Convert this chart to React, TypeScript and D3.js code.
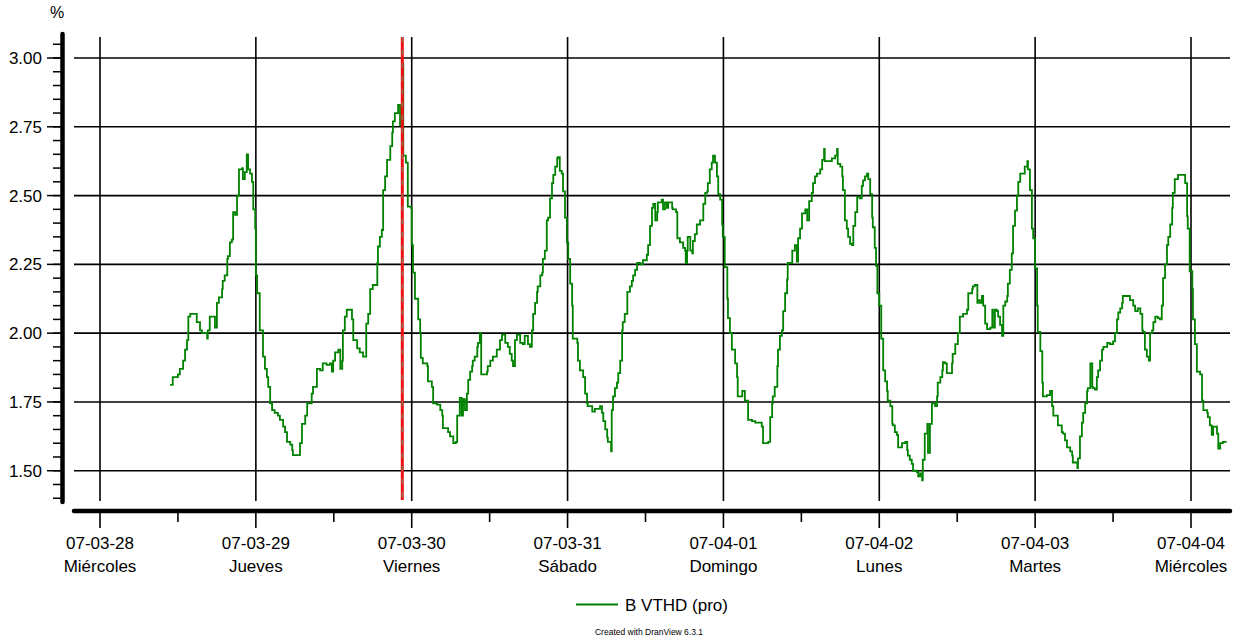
import React from "react";
import * as d3 from "d3";

const seriesName = "B VTHD (pro)";
const yUnit = "%";
const credit = "Created with DranView 6.3.1";
const dayNames = ["Miércoles", "Jueves", "Viernes", "Sábado", "Domingo", "Lunes", "Martes", "Miércoles"];
const yMajorTicks = [1.5, 1.75, 2.0, 2.25, 2.5, 2.75, 3.0];
const startDay = Date.UTC(2007, 2, 28);
const endDay = Date.UTC(2007, 3, 4);
const cursorHour = 46.55;

// [hours since 2007-03-28 00:00, value %]
const seg28: [number, number][] = [[10.8,1.812],[11.2,1.84],[12.0,1.85],[12.3,1.87],[12.8,1.90],[13.1,1.94],[13.4,1.975],[13.6,2.06],[13.9,2.07],[14.6,2.07],[14.9,2.04],[15.4,2.01],[15.7,2.0],[16.5,1.98],[16.6,2.01],[16.9,2.06],[17.4,2.06],[17.7,2.02],[18.0,2.11],[18.3,2.13],[18.8,2.16],[18.9,2.19],[19.2,2.21],[19.6,2.27],[19.7,2.28],[20.0,2.33],[20.3,2.34],[20.5,2.44],[20.8,2.43],[21.1,2.50],[21.4,2.595],[21.9,2.60],[22.0,2.56],[22.3,2.585],[22.6,2.65],[22.8,2.595],[23.1,2.58],[23.4,2.55],[23.6,2.45],[23.9,2.38]];
const seg29: [number, number][] = [[24.0,2.21],[24.2,2.145],[24.6,2.01],[24.9,2.01],[25.1,1.915],[25.4,1.87],[25.7,1.84],[25.9,1.805],[26.2,1.745],[26.5,1.72],[26.9,1.71],[27.4,1.70],[27.7,1.685],[28.2,1.66],[28.5,1.64],[28.8,1.605],[29.3,1.595],[29.6,1.575],[29.7,1.557],[30.5,1.557],[30.8,1.60],[31.1,1.67],[31.6,1.70],[31.9,1.745],[32.3,1.745],[32.6,1.78],[32.8,1.805],[33.4,1.87],[33.9,1.865],[34.3,1.89],[34.9,1.885],[35.4,1.89],[35.7,1.86],[35.9,1.90],[36.2,1.93],[36.7,1.94],[37.0,1.87],[37.3,1.90],[37.4,2.01],[37.7,2.06],[38.0,2.085],[38.5,2.085],[38.8,2.05],[39.0,1.975],[39.6,1.945],[40.0,1.93],[40.5,1.915],[41.0,2.035],[41.3,2.07],[41.6,2.16],[42.0,2.175],[42.7,2.255],[42.8,2.315],[43.1,2.35],[43.4,2.375],[43.6,2.52],[43.9,2.57],[44.2,2.63],[44.7,2.68],[45.0,2.73],[45.1,2.77],[45.4,2.80],[45.9,2.83],[46.2,2.755],[46.5,2.98],[46.7,2.645],[47.1,2.62],[47.4,2.46],[47.9,2.455]];
const seg30: [number, number][] = [[48.0,2.32],[48.2,2.22],[48.5,2.125],[49.0,2.05],[49.3,2.0],[49.4,1.91],[49.7,1.89],[50.4,1.88],[50.5,1.825],[51.1,1.805],[51.3,1.745],[51.9,1.74],[52.4,1.72],[52.7,1.70],[52.8,1.655],[53.4,1.655],[53.6,1.64],[53.9,1.625],[54.4,1.60],[54.8,1.605],[55.0,1.70],[55.4,1.765],[55.7,1.70],[55.9,1.76],[56.2,1.72],[56.5,1.78],[56.7,1.83],[57.0,1.86],[57.3,1.88],[57.4,1.90],[57.7,1.915],[58.1,1.95],[58.2,1.965],[58.5,2.0],[58.7,1.85],[59.3,1.85],[59.6,1.86],[59.7,1.88],[60.1,1.90],[60.5,1.915],[61.1,1.94],[61.6,1.975],[61.9,1.995],[62.4,1.965],[62.8,1.95],[63.1,1.925],[63.4,1.90],[63.6,1.88],[63.9,1.975],[64.2,1.995],[64.7,1.965],[65.1,1.96],[65.4,1.99],[65.9,1.96],[66.2,1.95],[66.5,2.01],[66.7,2.07],[67.0,2.11],[67.3,2.15],[67.4,2.17],[67.8,2.21],[68.1,2.22],[68.2,2.27],[68.5,2.30],[68.8,2.41],[69.0,2.42],[69.3,2.49],[69.6,2.545],[69.8,2.575],[70.1,2.605],[70.4,2.635],[70.5,2.64],[70.8,2.59],[71.1,2.58],[71.3,2.515],[71.6,2.42],[71.9,2.33]];
const seg31: [number, number][] = [[72.1,2.27],[72.4,2.18],[72.7,2.10],[72.8,1.98],[73.5,1.965],[73.6,1.90],[73.9,1.865],[74.4,1.84],[74.7,1.78],[75.0,1.745],[75.1,1.735],[75.8,1.715],[76.2,1.725],[77.0,1.735],[77.3,1.71],[77.5,1.68],[77.8,1.65],[78.1,1.62],[78.2,1.605],[78.7,1.57],[78.8,1.72],[79.0,1.77],[79.3,1.80],[79.6,1.82],[79.8,1.855],[80.1,1.90],[80.4,2.01],[80.5,2.04],[80.8,2.07],[81.2,2.15],[81.6,2.17],[81.9,2.19],[82.1,2.21],[82.4,2.23],[82.7,2.255],[83.2,2.25],[83.6,2.265],[84.2,2.285],[84.4,2.32],[84.7,2.39],[85.0,2.455],[85.2,2.47],[85.5,2.41],[85.8,2.44],[85.9,2.475],[86.5,2.485],[86.7,2.45],[87.0,2.475],[87.3,2.455],[87.5,2.475],[88.1,2.455],[88.2,2.45],[88.7,2.44],[88.9,2.345],[89.3,2.33],[89.8,2.31],[90.1,2.30],[90.2,2.255],[90.4,2.30],[90.5,2.35],[90.9,2.30],[91.2,2.29],[91.3,2.335],[91.6,2.36],[91.9,2.395],[92.4,2.41],[92.9,2.47],[93.2,2.51],[93.5,2.515],[93.6,2.545],[93.9,2.595],[94.2,2.62],[94.4,2.645],[94.7,2.62],[95.0,2.57],[95.2,2.505],[95.5,2.485],[95.8,2.395],[95.9,2.35]];
const seg01: [number, number][] = [[96.2,2.24],[96.6,2.125],[96.7,2.055],[97.0,2.0],[97.3,1.94],[97.8,1.89],[98.1,1.84],[98.2,1.77],[98.9,1.79],[99.3,1.755],[99.8,1.685],[100.4,1.68],[100.9,1.675],[101.3,1.675],[101.9,1.66],[102.1,1.60],[102.9,1.605],[103.2,1.695],[103.5,1.745],[103.6,1.77],[103.9,1.805],[104.3,1.88],[104.4,1.94],[104.7,1.99],[105.0,2.01],[105.2,2.08],[105.5,2.145],[105.8,2.195],[105.9,2.255],[106.6,2.30],[107.0,2.32],[107.3,2.26],[107.5,2.345],[107.8,2.38],[108.1,2.435],[108.6,2.45],[108.9,2.41],[109.2,2.48],[109.6,2.51],[109.8,2.545],[110.1,2.57],[110.4,2.58],[110.9,2.595],[111.2,2.63],[111.5,2.67],[111.6,2.625],[112.1,2.625],[112.7,2.635],[113.2,2.645],[113.5,2.67],[113.6,2.615],[114.0,2.605],[114.3,2.57],[114.4,2.52],[114.7,2.41],[115.0,2.38],[115.2,2.35],[115.5,2.325],[115.8,2.32],[116.0,2.39],[116.3,2.44],[116.6,2.495],[117.0,2.49],[117.3,2.535],[117.5,2.555],[117.8,2.57],[118.1,2.58],[118.3,2.56],[118.6,2.505],[118.9,2.42],[119.0,2.385],[119.3,2.31],[119.5,2.245],[119.7,2.145]];
const seg02: [number, number][] = [[120.0,2.10],[120.3,1.98],[120.6,1.865],[120.9,1.825],[121.2,1.79],[121.3,1.755],[121.7,1.735],[122.0,1.67],[122.1,1.665],[122.4,1.64],[122.7,1.63],[122.9,1.585],[123.5,1.60],[124.0,1.605],[124.3,1.575],[124.4,1.555],[124.7,1.54],[125.0,1.525],[125.2,1.50],[125.8,1.495],[126.0,1.48],[126.3,1.49],[126.6,1.465],[126.7,1.54],[127.0,1.635],[127.4,1.67],[127.5,1.565],[127.8,1.67],[128.1,1.745],[128.6,1.735],[128.9,1.77],[129.0,1.82],[129.4,1.84],[129.7,1.865],[129.8,1.895],[130.1,1.89],[130.4,1.855],[130.9,1.855],[131.2,1.89],[131.3,1.925],[131.7,1.96],[132.1,2.0],[132.4,2.06],[132.9,2.07],[133.5,2.085],[133.7,2.145],[134.3,2.16],[134.4,2.17],[134.7,2.175],[135.1,2.11],[135.2,2.12],[135.5,2.11],[135.8,2.135],[136.0,2.10],[136.3,2.035],[136.6,2.015],[137.1,2.02],[137.4,2.085],[137.5,2.02],[137.8,2.085],[138.1,2.08],[138.3,2.06],[138.6,2.03],[138.9,1.99],[139.1,2.10],[139.4,2.115],[139.7,2.135],[139.8,2.18],[140.1,2.23],[140.4,2.29],[140.6,2.39],[140.9,2.445],[141.2,2.50],[141.4,2.55],[141.7,2.58],[142.1,2.58],[142.4,2.605],[142.8,2.625],[142.9,2.595],[143.2,2.52],[143.5,2.38],[143.7,2.345]];
const seg03: [number, number][] = [[144.0,2.235],[144.3,2.10],[144.4,2.005],[144.8,1.935],[145.1,1.82],[145.2,1.77],[145.8,1.775],[146.3,1.79],[146.6,1.735],[146.8,1.70],[147.4,1.70],[147.5,1.665],[148.1,1.64],[148.3,1.635],[148.6,1.61],[148.9,1.585],[149.4,1.57],[149.7,1.555],[149.8,1.53],[150.5,1.51],[150.6,1.545],[150.9,1.625],[151.2,1.675],[151.4,1.71],[151.7,1.745],[152.0,1.79],[152.1,1.80],[152.5,1.89],[152.8,1.805],[152.9,1.80],[153.2,1.795],[153.5,1.84],[153.7,1.865],[154.0,1.90],[154.3,1.94],[154.5,1.95],[155.1,1.965],[155.5,1.96],[156.0,1.97],[156.3,2.0],[156.6,2.05],[156.8,2.075],[157.1,2.09],[157.4,2.11],[157.5,2.135],[158.1,2.135],[158.6,2.12],[159.1,2.10],[159.4,2.08],[159.8,2.09],[160.2,2.07],[160.5,2.01],[160.6,2.005],[160.9,1.94],[161.2,1.915],[161.5,1.90],[161.7,2.0],[162.0,2.01],[162.2,2.04],[162.5,2.06],[162.9,2.055],[163.2,2.05],[163.5,2.10],[163.7,2.20],[164.0,2.25],[164.3,2.32],[164.5,2.35],[164.8,2.395],[165.1,2.455],[165.2,2.51],[165.5,2.56],[166.0,2.575],[166.8,2.575],[167.1,2.545],[167.4,2.425],[167.5,2.38],[167.8,2.225]];
const seg04: [number, number][] = [[168.2,2.16],[168.3,2.05],[168.6,1.96],[168.9,1.86],[169.4,1.85],[169.7,1.755],[169.9,1.72],[170.5,1.71],[170.6,1.695],[170.9,1.665],[171.2,1.63],[171.4,1.66],[172.0,1.635],[172.2,1.58],[172.5,1.60],[172.9,1.605],[173.5,1.605]];

const FONT = "'Liberation Sans', Arial, Helvetica, sans-serif";
const GREEN = "#008200";

export default function App() {
  const W = 1238, H = 640;
  const plotLeft = 74, plotRight = 1230, plotTop = 36, plotBottom = 501;
  const axisY = 511, axisX = 62.5;

  const x = d3.scaleUtc().domain([new Date(startDay), new Date(endDay)]).range([100, 1191]);
  const y = d3.scaleLinear().domain([1.39, 3.08]).range([plotBottom, plotTop]);

  const toDate = (h: number) => new Date(startDay + h * 3600000);
  const data = [...seg28, ...seg29, ...seg30, ...seg31, ...seg01, ...seg02, ...seg03, ...seg04].map(
    ([h, v]) => ({ t: toDate(h), v })
  );
  const line = d3
    .line<{ t: Date; v: number }>()
    .x((d) => x(d.t))
    .y((d) => y(d.v))
    .curve(d3.curveStepAfter);

  const days = d3.utcDay.range(new Date(startDay), new Date(endDay + 86400000));
  const halfDays = days.slice(0, -1).map((d) => d3.utcHour.offset(d, 12));
  const minorY = d3.range(28, 62).map((i) => +(i * 0.05).toFixed(2));
  const fmtDate = d3.utcFormat("%y-%m-%d");
  const fmtY = d3.format(".2f");
  const cx = x(toDate(cursorHour));

  return (
    <svg
      width={W}
      height={H}
      style={{ position: "absolute", left: 0, top: 0, background: "#fff" }}
      fontFamily={FONT}
    >
      {/* grid */}
      {yMajorTicks.map((v) => (
        <line key={"gy" + v} x1={plotLeft} x2={plotRight} y1={y(v)} y2={y(v)} stroke="#000" strokeWidth={1.6} />
      ))}
      {days.map((d, i) => (
        <line key={"gx" + i} x1={x(d)} x2={x(d)} y1={plotTop + 1} y2={plotBottom} stroke="#000" strokeWidth={1.6} />
      ))}

      {/* series */}
      <path d={line(data) || ""} fill="none" stroke={GREEN} strokeWidth={1.8} />

      {/* cursor */}
      <line x1={cx} x2={cx} y1={plotTop + 1} y2={plotBottom - 1} stroke="#ee1111" strokeWidth={3} />
      <line x1={cx} x2={cx} y1={plotTop + 1} y2={plotBottom - 1} stroke="#7a8a6a" strokeWidth={1} strokeDasharray="5,8" />

      {/* y axis */}
      <line x1={axisX} x2={axisX} y1={34} y2={502} stroke="#000" strokeWidth={4.5} strokeLinecap="round" />
      {minorY.map((v) => (
        <line key={"my" + v} x1={53} x2={axisX} y1={y(v)} y2={y(v)} stroke="#000" strokeWidth={1.5} />
      ))}
      {yMajorTicks.map((v) => (
        <g key={"ty" + v}>
          <line x1={47} x2={axisX} y1={y(v)} y2={y(v)} stroke="#000" strokeWidth={1.5} />
          <text x={42} y={y(v) + 6} textAnchor="end" fontSize={17} fill="#000">
            {fmtY(v)}
          </text>
        </g>
      ))}
      <text x={57} y={18} textAnchor="middle" fontSize={16} fill="#000">
        {yUnit}
      </text>

      {/* x axis */}
      <line x1={plotLeft} x2={plotRight} y1={axisY} y2={axisY} stroke="#000" strokeWidth={4.5} strokeLinecap="round" />
      {halfDays.map((d, i) => (
        <line key={"hx" + i} x1={x(d)} x2={x(d)} y1={axisY} y2={522} stroke="#000" strokeWidth={1.6} />
      ))}
      {days.map((d, i) => (
        <g key={"tx" + i}>
          <line x1={x(d)} x2={x(d)} y1={axisY} y2={528} stroke="#000" strokeWidth={1.6} />
          <text x={x(d)} y={549} textAnchor="middle" fontSize={17} fill="#000">
            {fmtDate(d)}
          </text>
          <text x={x(d)} y={572} textAnchor="middle" fontSize={17} fill="#000">
            {dayNames[i]}
          </text>
        </g>
      ))}

      {/* legend */}
      <line x1={576} x2={618} y1={604.5} y2={604.5} stroke={GREEN} strokeWidth={2} />
      <text x={625} y={611} fontSize={17} fill="#000">
        {seriesName}
      </text>
      <text x={649} y={635} textAnchor="middle" fontSize={8.5} fill="#000">
        {credit}
      </text>
    </svg>
  );
}
